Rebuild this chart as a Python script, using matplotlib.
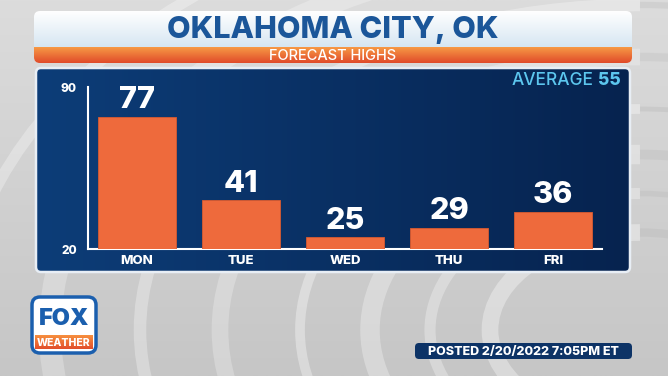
import numpy as np
import matplotlib
matplotlib.use("Agg")
import matplotlib.pyplot as plt
from matplotlib.patches import FancyBboxPatch, Arc, Rectangle

# chart data
days = ["MON", "TUE", "WED", "THU", "FRI"]
highs = [77, 41, 25, 29, 36]
y_ticks = [20, 90]
average = 55
city = "OKLAHOMA CITY, OK"
subtitle = "FORECAST HIGHS"
posted = "POSTED 2/20/2022 7:05PM ET"

FONT = ["Inter", "DejaVu Sans"]
plt.rcParams["font.family"] = FONT

W, H = 668, 376
fig = plt.figure(figsize=(W / 100, H / 100), dpi=100)

# full-figure axes in pixel coordinates for the decorations
bg = fig.add_axes([0, 0, 1, 1], zorder=0)
bg.set_xlim(0, W)
bg.set_ylim(H, 0)
bg.axis("off")


def gradient(ax, extent, c_top, c_bot, horizontal=False, clip=None, z=1):
    c1 = np.array(matplotlib.colors.to_rgb(c_top))
    c2 = np.array(matplotlib.colors.to_rgb(c_bot))
    t = np.linspace(0, 1, 256)
    img = c1[None, :] * (1 - t[:, None]) + c2[None, :] * t[:, None]
    if horizontal:
        img = img[None, :, :]
    else:
        img = img[:, None, :]
    im = ax.imshow(img, extent=extent, aspect="auto", zorder=z,
                   interpolation="bilinear")
    if clip is not None:
        im.set_clip_path(clip)
    return im


# grey swirl background
gradient(bg, (0, W, H, 0), "#dcdcdc", "#c6c6c6", z=0)
for r, lw, a in [(150, 12, 0.35), (210, 8, 0.3), (270, 14, 0.3),
                 (340, 7, 0.35), (420, 12, 0.25), (500, 9, 0.3),
                 (590, 16, 0.25), (680, 8, 0.3)]:
    bg.add_patch(Arc((640, 330), 2 * r, 1.3 * r, theta1=90, theta2=270,
                     color="white", lw=lw, alpha=a, zorder=0.5))
    bg.add_patch(Arc((640, 330), 2 * r, 1.3 * r, theta1=270, theta2=360,
                     color="#b8b8b8", lw=lw * 0.5, alpha=a, zorder=0.5))

# header box
hdr = FancyBboxPatch((34, 11), 598, 52, boxstyle="round,pad=0,rounding_size=6",
                     fc="none", ec="none", zorder=2)
bg.add_patch(hdr)
gradient(bg, (34, 632, 47, 11), "#ffffff", "#d6e6f2", clip=hdr, z=2)
gradient(bg, (34, 632, 63, 47), "#f79a45", "#e04a2a", clip=hdr, z=2.1)
bg.text(333, 30, city, ha="center", va="center", fontsize=22,
        fontweight=800, color="#1b5699", zorder=3)
bg.text(333, 55.5, subtitle, ha="center", va="center", fontsize=10.5,
        fontweight=500, color="white", zorder=3)

# chart panel
panel = FancyBboxPatch((36, 68), 594, 204, boxstyle="round,pad=0,rounding_size=5",
                       fc="none", ec="#e8eef5", lw=1.8, zorder=2.2)
bg.add_patch(panel)
gradient(bg, (36, 630, 272, 68), "#0d3d78", "#06234f", horizontal=True,
         clip=panel, z=2)

bg.text(594, 80.5, "AVERAGE", ha="right", va="center", fontsize=12.5,
        fontweight=500, color="#5cc6ee", zorder=3)
bg.text(598, 80.5, str(average), ha="left", va="center", fontsize=12.5,
        fontweight=800, color="#5cc6ee", zorder=3)

# FOX WEATHER logo
logo = FancyBboxPatch((32, 297), 64, 56, boxstyle="round,pad=0,rounding_size=8",
                      fc="white", ec="#1b5fae", lw=2.5, zorder=2)
bg.add_patch(logo)
band = Rectangle((35, 335), 58, 14, fc="none", ec="none", zorder=2)
bg.add_patch(band)
gradient(bg, (35, 93, 349, 335), "#f7903f", "#e24e2b", clip=band, z=2.1)
bg.text(64, 319, "FOX", ha="center", va="center", fontsize=17,
        fontweight=900, color="#1b5fae", zorder=3)
bg.text(64, 342.5, "WEATHER", ha="center", va="center", fontsize=7.5,
        fontweight=800, color="white", zorder=3)

# posted tag
bg.add_patch(FancyBboxPatch((415, 343), 217, 16,
                            boxstyle="round,pad=0,rounding_size=4",
                            fc="#0d3366", ec="none", zorder=2))
bg.text(523.5, 351.5, posted, ha="center", va="center", fontsize=9,
        fontweight=800, color="white", zorder=3)

# bar chart
ax = fig.add_axes([88 / W, 1 - 249 / H, 514 / W, 162 / H], zorder=1)
ax.patch.set_visible(False)
x = np.arange(len(days))
bars = ax.bar(x, np.array(highs) - y_ticks[0], bottom=y_ticks[0], width=0.75,
              color="#ee6a3c", edgecolor="#d85a30", lw=0.6, zorder=3)
for xi, v in zip(x, highs):
    ax.annotate(str(v), (xi, v), xytext=(0, 2), textcoords="offset points",
                ha="center", va="bottom", fontsize=22, fontweight=800,
                color="white", zorder=4)
ax.set_xlim(-0.47, 4.47)
ax.set_ylim(20, 90)
ax.set_xticks(x)
ax.set_xticklabels(days, fontsize=9.5, fontweight=800, color="white")
ax.set_yticks(y_ticks)
ax.set_yticklabels([str(t) for t in y_ticks], fontsize=8.5, fontweight=800,
                   color="white")
ax.tick_params(length=0, pad=8)
ax.tick_params(axis="x", pad=4)
for s in ["top", "right"]:
    ax.spines[s].set_visible(False)
ax.spines["left"].set_color("white")
ax.spines["bottom"].set_color("white")
ax.spines["left"].set_linewidth(1.5)
ax.spines["bottom"].set_linewidth(1.5)

fig.savefig("out.png", dpi=100)
